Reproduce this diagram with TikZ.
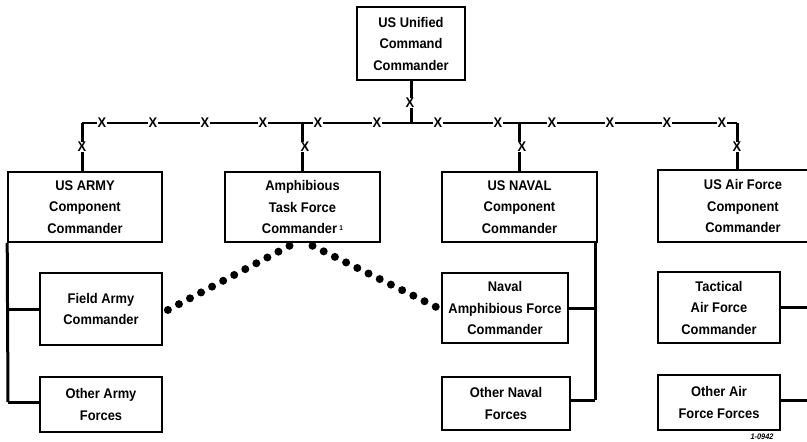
\documentclass[tikz,border=0pt]{standalone}
\usepackage{fontspec}
\setmainfont{Liberation Sans}[FakeStretch=0.92]
\usetikzlibrary{calc}
\begin{document}
\begin{tikzpicture}[x=1pt,y=-1pt,
  box/.style={draw,line width=1.6pt,fill=white,inner sep=0pt,align=center,
    font=\fontsize{14}{21.5}\selectfont\bfseries},
  xmark/.style={fill=white,inner sep=0.6pt,font=\fontsize{14}{14}\selectfont\bfseries},
  link/.style={line width=2pt},
  stem/.style={line width=3pt},
  dots/.style={line width=8pt,line cap=round,dash pattern=on 0pt off 12.5pt}]
\useasboundingbox (0,0) rectangle (807,442);
\clip (0,0) rectangle (807,442);
% boxes
\node[box,minimum width=108pt,minimum height=73pt] (top) at (411,43.5) {US Unified\\Command\\Commander};
\node[box,minimum width=154pt,minimum height=70pt] (army) at (85,207) {US ARMY\\Component\\Commander};
\node[box,minimum width=155pt,minimum height=70pt] (amph) at (302.5,207) {Amphibious\\Task Force\\Commander\,\raisebox{0.45ex}{\fontsize{7}{7}\selectfont 1}};
\node[box,minimum width=155pt,minimum height=70pt] (naval) at (519.5,207) {US NAVAL\\Component\\Commander};
\node[box,minimum width=170pt,minimum height=72pt] (air) at (743,206) {US Air Force\\Component\\Commander};
\node[box,minimum width=122pt,minimum height=72pt] (field) at (101,309) {Field Army\\Commander};
\node[box,minimum width=122pt,minimum height=55pt] (oarmy) at (101,404.5) {Other Army\\Forces};
\node[box,minimum width=126pt,minimum height=70pt] (namph) at (505,308) {Naval\\Amphibious Force\\Commander};
\node[box,minimum width=128pt,minimum height=53pt] (onaval) at (506,403.5) {Other Naval\\Forces};
\node[box,minimum width=122pt,minimum height=71pt] (tac) at (719,307.5) {Tactical\\Air Force\\Commander};
\node[box,minimum width=122pt,minimum height=55pt] (oair) at (719,402.5) {Other Air\\Force Forces};
% coordinates
\coordinate (L) at (82,123);
\coordinate (R) at (737,123);
\coordinate (abus) at (8,402);
\coordinate (nbus) at (595,400);
\coordinate (airbus) at (830,400);
% command lines
\draw[link] (L) -- (R);
\draw[stem] (top.south) -- (top.south |- L);
\draw[stem] (L) -- (army.north -| L);
\draw[stem] (amph.north) -- (amph.north |- L);
\draw[stem] (naval.north) -- (naval.north |- L);
\draw[stem] (R) -- (air.north -| R);
% x marks
\foreach \xx/\yy in {410/103,82/147,305/147,522/147,737/147,
  102/123,153/123,205/123,263/123,318/123,377/123,438/123,498/123,552/123,610/123,667/123,722/123}
  \node[xmark] at (\xx,\yy) {X};
% army subordinates
\draw[stem] (army.south west) -- (abus);
\draw[stem] (field.west) -- (field.west -| abus);
\draw[stem] (oarmy.west |- abus) -- (abus);
% naval subordinates
\draw[stem] (naval.south -| nbus) -- (nbus);
\draw[stem] (namph.east) -- (namph.east -| nbus);
\draw[stem] (onaval.east |- nbus) -- (nbus);
% air subordinates
\draw[stem] (tac.east) -- (tac.east -| airbus);
\draw[stem] (oair.east |- airbus) -- (airbus);
% coordination (dotted)
\coordinate (d1) at ($(amph.south)+(-13,3)$);
\coordinate (d2) at ($(amph.south)+(10,3)$);
\draw[dots] (d1) -- ($(field.east)+(5,1)$);
\draw[dots] (d2) -- ($(namph.west)+(-3,0)$);
% figure number
\node[font=\fontsize{8}{8}\selectfont\bfseries\itshape,inner sep=0pt] (fig) at (762,437) {1-0942};
\end{tikzpicture}
\end{document}
